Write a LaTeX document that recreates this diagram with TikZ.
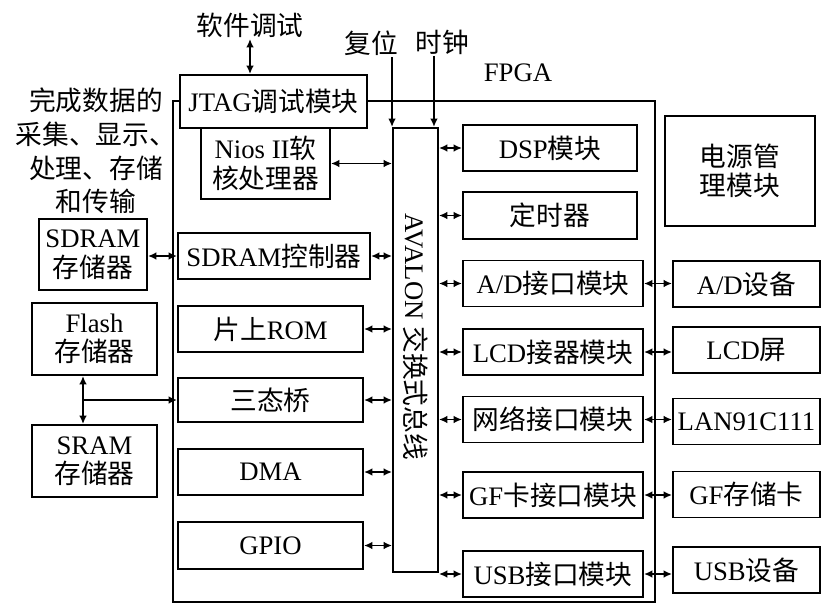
\documentclass[tikz,border=0pt]{standalone}
\usepackage{fontspec}
\setmainfont{Liberation Serif}
\newfontfamily\cjk{Noto Sans CJK SC}
\newcommand{\zh}[1]{{\cjk #1}}
\usetikzlibrary{arrows.meta}

\begin{document}
\begin{tikzpicture}[x=0.025cm, y=-0.025cm,
    blk/.style={draw, line width=1.4pt, fill=white, inner sep=0pt, align=center, font=\fontsize{19}{21}\selectfont},
    lbl/.style={inner sep=1pt, align=center, font=\fontsize{19}{24}\selectfont},
    link/.style={line width=1.4pt, {Latex[length=6pt,width=5.5pt]}-{Latex[length=6pt,width=5.5pt]}},
    feed/.style={line width=1.4pt, -{Latex[length=6pt,width=5.5pt]}}
]
    \useasboundingbox (0,0) rectangle (824,605);

    % FPGA frame
    \node[draw, line width=1.4pt, minimum width=12.05cm, minimum height=12.525cm] (fpga) at (414,351.5) {};
    \node[lbl] (fpgalbl) at (518,73) {FPGA};

    % left column inside the FPGA
    \node[blk, minimum width=4.675cm, minimum height=1.325cm] (jtag) at (273.5,101.5) {JTAG\zh{调试模块}};
    \node[blk, minimum width=3.225cm, minimum height=1.775cm] (nios) at (265.5,163.5) {Nios II\zh{软}\\\zh{核处理器}};
    \node[blk, minimum width=4.8cm, minimum height=1.15cm] (sdramc) at (274,256) {SDRAM\zh{控制器}};
    \node[blk, minimum width=4.625cm, minimum height=1.15cm] (rom) at (270.5,329) {\zh{片上}ROM};
    \node[blk, minimum width=4.625cm, minimum height=1.1cm] (bridge) at (270.5,400) {\zh{三态桥}};
    \node[blk, minimum width=4.625cm, minimum height=1.15cm] (dma) at (270.5,472) {DMA};
    \node[blk, minimum width=4.625cm, minimum height=1.175cm] (gpio) at (270.5,545.5) {GPIO};

    % switch fabric
    \node[blk, minimum width=1.125cm, minimum height=11.1cm] (bus) at (415.5,350) {};
    \node[lbl, rotate=-90] (bustxt) at (415.5,337) {AVALON\ \zh{交换式总线}};

    % right column inside the FPGA
    \node[blk, minimum width=4.35cm, minimum height=1.15cm] (dsp) at (550,148) {DSP\zh{模块}};
    \node[blk, minimum width=4.35cm, minimum height=1.175cm] (timer) at (550,215.5) {\zh{定时器}};
    \node[blk, minimum width=4.5cm, minimum height=1.15cm] (adif) at (553,283.5) {A/D\zh{接口模块}};
    \node[blk, minimum width=4.5cm, minimum height=1.15cm] (lcdif) at (553,352) {LCD\zh{接器模块}};
    \node[blk, minimum width=4.5cm, minimum height=1.15cm] (netif) at (553,419.5) {\zh{网络接口模块}};
    \node[blk, minimum width=4.5cm, minimum height=1.15cm] (gfif) at (553,495) {GF\zh{卡接口模块}};
    \node[blk, minimum width=4.5cm, minimum height=1.15cm] (usbif) at (553,574) {USB\zh{接口模块}};

    % outside devices
    \node[blk, minimum width=3.75cm, minimum height=2.75cm] (power) at (740,171) {\zh{电源管}\\\zh{理模块}};
    \node[blk, minimum width=3.675cm, minimum height=1.15cm] (addev) at (746.5,284) {A/D\zh{设备}};
    \node[blk, minimum width=3.675cm, minimum height=1.15cm] (lcd) at (746.5,350) {LCD\zh{屏}};
    \node[blk, minimum width=3.675cm, minimum height=1.15cm] (lan) at (746.5,421.5) {LAN91C111};
    \node[blk, minimum width=3.675cm, minimum height=1.15cm] (gfcard) at (746.5,494.5) {GF\zh{存储卡}};
    \node[blk, minimum width=3.675cm, minimum height=1.15cm] (usbdev) at (746.5,570) {USB\zh{设备}};

    \node[blk, minimum width=2.7cm, minimum height=1.775cm] (sdram) at (93,254.5) {SDRAM\\\zh{存储器}};
    \node[blk, minimum width=3.125cm, minimum height=1.8cm] (flash) at (94.5,339) {Flash\\\zh{存储器}};
    \node[blk, minimum width=3.125cm, minimum height=1.8cm] (sram) at (94.5,461) {SRAM\\\zh{存储器}};

    \node[lbl] (task) at (96,151) {\zh{完成数据的}\\\zh{采集、显示、}\\\zh{处理、存储}\\\zh{和传输}};
    \node[lbl] (swlbl) at (250,25) {\zh{软件调试}};
    \node[lbl] (rstlbl) at (371,43) {\zh{复位}};
    \node[lbl] (clklbl) at (442,42) {\zh{时钟}};

    % signals
    \draw[link] (jtag.north -| swlbl) -- (swlbl.south);
    \draw[feed] (bus.north west |- rstlbl.south) -- (bus.north west);
    \draw[feed] ([xshift=-0.125cm]bus.north east |- clklbl.south) -- ([xshift=-0.125cm]bus.north east);

    \draw[link] (nios.east) -- (nios.east -| bus.west);
    \foreach \m in {sdramc,rom,bridge,dma,gpio}
        \draw[link] (\m.east) -- (\m.east -| bus.west);
    \foreach \m in {dsp,timer,adif,lcdif,netif,gfif,usbif}
        \draw[link] (bus.east |- \m.west) -- (\m.west);
    \foreach \m/\d in {adif/addev,lcdif/lcd,netif/lan,gfif/gfcard,usbif/usbdev}
        \draw[link] (\m.east) -- (\d.west |- \m.east);

    \draw[link] (sdram.east |- sdramc.west) -- (sdramc.west);
    \coordinate (tap) at (83,400);
    \draw[link] (tap |- flash.south) -- (tap |- sram.north);
    \draw[feed] (tap) -- (bridge.west);
\end{tikzpicture}
\end{document}
